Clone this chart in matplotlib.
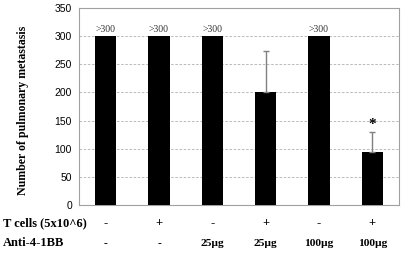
import matplotlib
matplotlib.use("Agg")
import matplotlib.pyplot as plt
import numpy as np

groups = ["G1", "G2", "G3", "G4", "G5", "G6"]
values = [300, 300, 300, 200, 300, 94]
errors = [0, 0, 0, 73, 0, 35]
over_labels = [">300", ">300", ">300", "", ">300", ""]
tcells = ["-", "+", "-", "+", "-", "+"]
anti = ["-", "-", "25\u00b5g", "25\u00b5g", "100\u00b5g", "100\u00b5g"]
star_idx = 5
yticks = [0, 50, 100, 150, 200, 250, 300, 350]

fig = plt.figure(figsize=(4.03, 2.56), dpi=100)
ax = fig.add_axes([0.196, 0.199, 0.794, 0.770])
x = np.arange(len(groups))
ax.bar(x, values, width=0.4, color="black", zorder=3)
for i in range(len(groups)):
    if errors[i] > 0:
        ax.errorbar(x[i], values[i], yerr=[[0], [errors[i]]], fmt="none",
                    ecolor="#808080", elinewidth=1, capsize=2.5, capthick=1, zorder=4)
    if over_labels[i]:
        ax.text(x[i], values[i] + 3, over_labels[i], ha="center", va="bottom",
                fontsize=7, family="Liberation Serif", color="#333333")
ax.text(x[star_idx], values[star_idx] + errors[star_idx] + 2, "*", ha="center", va="bottom",
        fontsize=11, family="Liberation Serif", fontweight="bold")

ax.set_xlim(-0.5, len(groups) - 0.5)
ax.set_ylim(0, 350)
ax.set_yticks(yticks)
ax.set_yticklabels([str(t) for t in yticks], family="Liberation Sans", fontsize=7.5)
ax.set_xticks([])
ax.tick_params(axis="y", length=0, pad=5)
ax.grid(axis="y", linestyle=(0, (3, 2)), color="#b0b0b0", linewidth=0.6, zorder=0)
for s in ax.spines.values():
    s.set_color("#a0a0a0")
    s.set_linewidth(0.8)
ax.set_ylabel("Number of pulmonary metastasis", family="Liberation Serif",
              fontweight="bold", fontsize=8.6)
ax.yaxis.set_label_coords(-(79 - 29) / 320, 0.5 - (110 - 106.5) / 197)

trans = ax.get_xaxis_transform()
for i in range(len(groups)):
    ax.text(x[i], -0.09, tcells[i], transform=trans, ha="center", va="center",
            family="Liberation Serif", fontweight="bold", fontsize=9)
    ax.text(x[i], -0.193, anti[i], transform=trans, ha="center", va="center",
            family="Liberation Serif", fontweight="bold", fontsize=8.2)
fig.text(0.008, 1 - 223 / 256, "T cells (5x10^6)", ha="left", va="center",
         family="Liberation Serif", fontweight="bold", fontsize=9)
fig.text(0.008, 1 - 243 / 256, "Anti-4-1BB", ha="left", va="center",
         family="Liberation Serif", fontweight="bold", fontsize=9)

fig.savefig("out.png", dpi=100)
